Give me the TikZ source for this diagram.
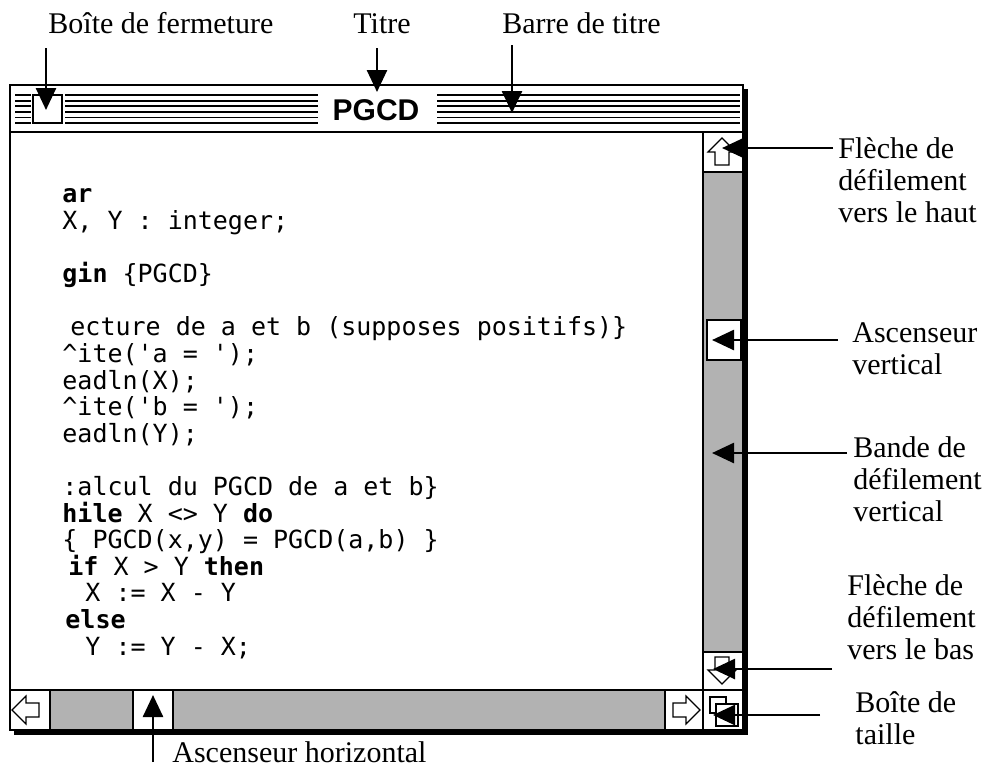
\documentclass[tikz,border=0pt]{standalone}
\usepackage{fontspec}
\setmainfont{Liberation Serif}
\newfontfamily\monaco{DejaVu Sans Mono}
\newfontfamily\chicago{Liberation Sans}
\usetikzlibrary{arrows.meta}

\begin{document}
\begin{tikzpicture}[x=0.5pt, y=-0.5pt,
		etiquette/.style={anchor=base west, inner sep=0pt, align=left, font=\fontsize{15}{16}\selectfont},
		fleche/.style={line width=1.3pt, -{Triangle[length=11pt,width=10pt]}},
		bord/.style={line width=1pt},
		sep/.style={line width=0.75pt},
		raie/.style={line width=0.9pt},
		bande/.style={fill=black!30},
		icone/.style={line width=0.6pt, fill=white},
		code/.style={anchor=base west, inner sep=0pt, align=left, font=\monaco\fontsize{12.5}{13.3}\selectfont}
	]
	\useasboundingbox (0,0) rectangle (990,768);

	%La fenetre et son ombre
		\fill (14,89) rectangle (748,735);
		\draw[bord, fill=white] (10,85) rectangle (743,730);
	%Barre de titre
		\draw[bord] (10,132) -- (743,132);
		\foreach \y in {95,100.6,106.2,111.8,117.4,123}{
			\draw[raie] (15,\y) -- (31,\y);
			\draw[raie] (65,\y) -- (318,\y);
			\draw[raie] (437,\y) -- (740,\y);
		}
		\draw[bord, fill=white] (33,95) rectangle (62,123);
		\node[font=\chicago\bfseries\fontsize{15}{15}\selectfont, anchor=base, inner sep=0pt] (titre) at (376,120) {PGCD};
	%Bandes de defilement
		\draw[bande] (703,172) rectangle (743,652);
		\draw[bande] (50,690) rectangle (665,730);
		\draw[sep] (703,132) -- (703,730);
		\draw[sep] (703,172) -- (743,172);
		\draw[sep] (703,652) -- (743,652);
		\draw[sep] (10,690) -- (743,690);
		\draw[sep] (50,690) -- (50,730);
		\draw[sep] (665,690) -- (665,730);
	%Ascenseurs
		\draw[sep, fill=white] (707,320) rectangle (741,360);
		\draw[sep, fill=white] (133,690) rectangle (173,730);
	%Fleches de defilement
		\draw[icone, shift={(722,152)}] (0,-14) -- (14,0) -- (7,0) -- (7,13) -- (-7,13) -- (-7,0) -- (-14,0) -- cycle;
		\draw[icone, shift={(722,670)}, rotate=180] (0,-14) -- (14,0) -- (7,0) -- (7,13) -- (-7,13) -- (-7,0) -- (-14,0) -- cycle;
		\draw[icone, shift={(26,710)}, rotate=90] (0,-14) -- (14,0) -- (7,0) -- (7,13) -- (-7,13) -- (-7,0) -- (-14,0) -- cycle;
		\draw[icone, shift={(686,710)}, rotate=-90] (0,-14) -- (14,0) -- (7,0) -- (7,13) -- (-7,13) -- (-7,0) -- (-14,0) -- cycle;
	%Boite de taille
		\draw[icone] (710,697) rectangle (726,713);
		\draw[icone] (716,704) rectangle (738,726);
		\draw[bord] (10,85) rectangle (743,730);

	%Le programme
		\node[code] (programme) at (62,655) {\textbf{ar}\\
			X, Y : integer;\\[13.3pt]
			\textbf{gin} \{PGCD\}\\[13.3pt]
			\hspace*{4pt}ecture de a et b (supposes positifs)\}\\
			\textasciicircum ite(\textquotesingle a = \textquotesingle);\\
			eadln(X);\\
			\textasciicircum ite(\textquotesingle b = \textquotesingle);\\
			eadln(Y);\\[13.3pt]
			:alcul du PGCD de a et b\}\\
			\textbf{hile} X <> Y \textbf{do}\\
			\{ PGCD(x,y) = PGCD(a,b) \}\\
			\hspace*{3pt}\textbf{if} X > Y \textbf{then}\\
			\hspace*{11.5pt}X := X - Y\\
			\hspace*{1.5pt}\textbf{else}\\
			\hspace*{11.5pt}Y := Y - X;};

	%Les etiquettes
		\node[etiquette] (lFermeture) at (48,33) {Boîte de fermeture};
		\node[etiquette] (lTitre) at (353,33) {Titre};
		\node[etiquette] (lBarre) at (502,33) {Barre de titre};
		\node[etiquette] (lHaut) at (838,222) {Flèche de\\défilement\\vers le haut};
		\node[etiquette] (lAscV) at (852,374) {Ascenseur\\vertical};
		\node[etiquette] (lBande) at (853,521) {Bande de\\défilement\\vertical};
		\node[etiquette] (lBas) at (847,659) {Flèche de\\défilement\\vers le bas};
		\node[etiquette] (lTaille) at (855,744) {Boîte de\\taille};
		\node[etiquette] (lAscH) at (172,762) {Ascenseur horizontal};
	%Les points vises
		\coordinate (pFermeture) at (46,110);
		\coordinate (pTitre) at (377,92);
		\coordinate (pBarre) at (512,113);
		\coordinate (pHaut) at (722,148);
		\coordinate (pAscV) at (712,340);
		\coordinate (pBande) at (712,453);
		\coordinate (pBas) at (713,669);
		\coordinate (pTaille) at (713,715);
		\coordinate (pAscH) at (153,695);
	%Les fleches
		\draw[fleche] ([yshift=-7.5pt]pFermeture |- lFermeture.base) -- (pFermeture);
		\draw[fleche] ([yshift=-7.5pt]pTitre |- lTitre.base) -- (pTitre);
		\draw[fleche] ([yshift=-6pt]pBarre |- lBarre.base) -- (pBarre);
		\draw[fleche] ([xshift=-2.5pt]lHaut.west |- pHaut) -- (pHaut);
		\draw[fleche] ([xshift=-7pt]lAscV.west |- pAscV) -- (pAscV);
		\draw[fleche] ([xshift=-3pt]lBande.west |- pBande) -- (pBande);
		\draw[fleche] ([xshift=-7.5pt]lBas.west |- pBas) -- (pBas);
		\draw[fleche] ([xshift=-17.5pt]lTaille.west |- pTaille) -- (pTaille);
		\draw[fleche] (pAscH |- lAscH.base) -- (pAscH);
\end{tikzpicture}
\end{document}
